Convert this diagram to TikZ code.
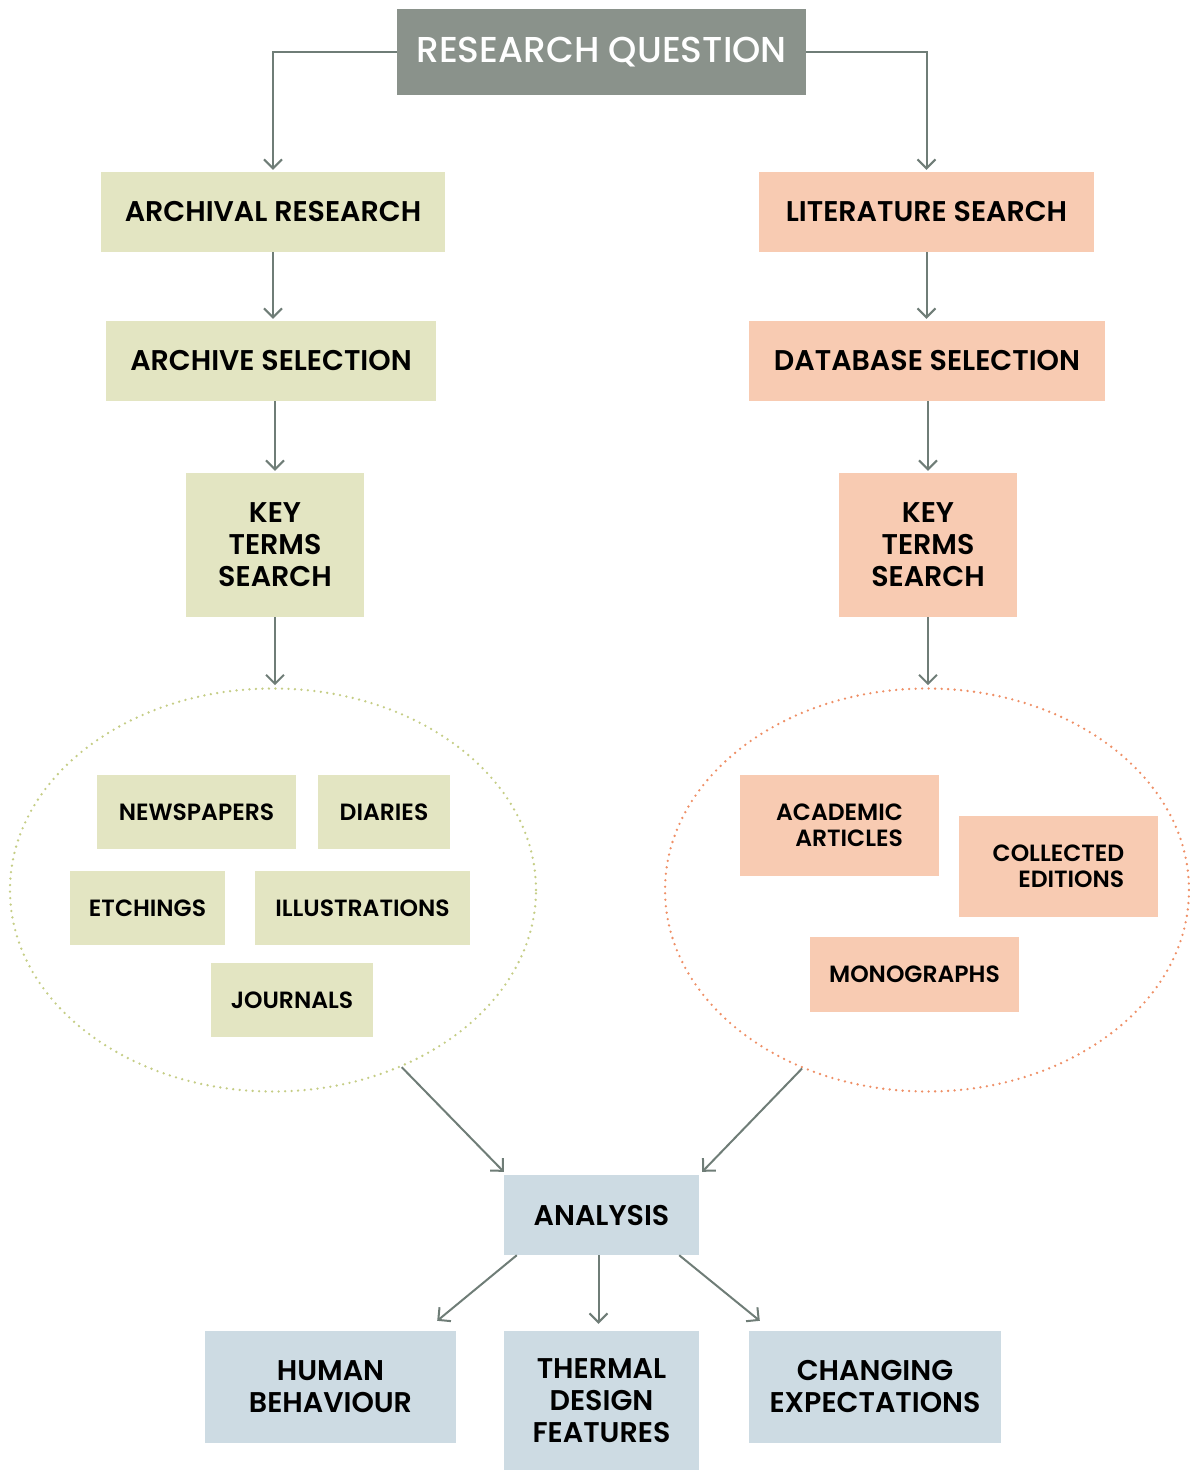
\documentclass[tikz,border=0pt]{standalone}
\usepackage{fontspec}
\setmainfont{Poppins}[BoldFont={Poppins SemiBold}]
\newfontfamily\rqfont{Poppins Medium}
\usepackage{tikz}
\usetikzlibrary{arrows.meta,shapes,calc}
\definecolor{qgray}{HTML}{8A928B}
\definecolor{archgreen}{HTML}{E3E5C2}
\definecolor{litpeach}{HTML}{F8CBB2}
\definecolor{anablue}{HTML}{CDDBE3}
\definecolor{arrowgray}{HTML}{6F7D77}
\definecolor{greendot}{HTML}{C5CD85}
\definecolor{peachdot}{HTML}{EE8F66}
\tikzstyle{basicbox} = [inner sep=0pt, align=center, font=\bfseries\fontsize{28.5}{32}\selectfont]
\tikzstyle{archbox} = [basicbox, fill=archgreen]
\tikzstyle{litbox} = [basicbox, fill=litpeach]
\tikzstyle{anabox} = [basicbox, fill=anablue]
\tikzstyle{smallbox} = [font=\bfseries\fontsize{23.5}{26}\selectfont]
\tikzstyle{pool} = [ellipse, inner sep=0pt, line width=2.6pt, line cap=round, dash pattern=on 0pt off 6.5pt]
\tikzstyle{flow} = [draw=arrowgray, line width=2pt, -{Straight Barb[length=9pt,width=18pt,line width=2pt]}]

\begin{document}
\begin{tikzpicture}[x=1pt, y=-1pt]
        \useasboundingbox (0,0) rectangle (1190,1470);
        % top
        \path[] node[basicbox, fill=qgray, text=white, font=\rqfont\fontsize{36}{40}\selectfont, minimum width=409, minimum height=86] (rq) at (601.5,52) {RESEARCH QUESTION};
        % archive side
        \path[] node[archbox, minimum width=344, minimum height=80] (archres) at (273,212) {ARCHIVAL RESEARCH};
        \path[] node[archbox, minimum width=330, minimum height=80] (archsel) at (271,361) {ARCHIVE SELECTION};
        \path[] node[archbox, minimum width=178, minimum height=144] (keyleft) at (275,545) {KEY\\TERMS\\SEARCH};
        \path[] node[pool, draw=greendot, minimum width=526, minimum height=403] (leftpool) at (273,890) {};
        \path[] node[archbox, smallbox, minimum width=199, minimum height=74] (news) at (196.5,812) {NEWSPAPERS};
        \path[] node[archbox, smallbox, minimum width=132, minimum height=74] (diaries) at (384,812) {DIARIES};
        \path[] node[archbox, smallbox, minimum width=155, minimum height=74] (etch) at (147.5,908) {ETCHINGS};
        \path[] node[archbox, smallbox, minimum width=215, minimum height=74] (illus) at (362.5,908) {ILLUSTRATIONS};
        \path[] node[archbox, smallbox, minimum width=162, minimum height=74] (journals) at (292,1000) {JOURNALS};
        % literature side
        \path[] node[litbox, minimum width=335, minimum height=80] (litsearch) at (926.5,212) {LITERATURE SEARCH};
        \path[] node[litbox, minimum width=356, minimum height=80] (dbsel) at (927,361) {DATABASE SELECTION};
        \path[] node[litbox, minimum width=178, minimum height=144] (keyright) at (928,545) {KEY\\TERMS\\SEARCH};
        \path[] node[pool, draw=peachdot, minimum width=524, minimum height=403] (rightpool) at (927,890) {};
        \path[] node[litbox, smallbox, align=right, minimum width=199, minimum height=101] (academic) at (839.5,825.5) {ACADEMIC\\ARTICLES};
        \path[] node[litbox, smallbox, align=right, minimum width=199, minimum height=101] (collected) at (1058.5,866.5) {COLLECTED\\EDITIONS};
        \path[] node[litbox, smallbox, minimum width=209, minimum height=75] (mono) at (914.5,974.5) {MONOGRAPHS};
        % analysis
        \path[] node[anabox, minimum width=195, minimum height=80] (analysis) at (601.5,1215) {ANALYSIS};
        \path[] node[anabox, minimum width=251, minimum height=112] (human) at (330.5,1387) {HUMAN\\BEHAVIOUR};
        \path[] node[anabox, minimum width=195, minimum height=139] (thermal) at (601.5,1400.5) {THERMAL\\DESIGN\\FEATURES};
        \path[] node[anabox, minimum width=252, minimum height=112] (changing) at (875,1387) {CHANGING\\EXPECTATIONS};
        % connectors
        \path[flow] (rq.west) -| ($(archres.north)+(0,-2)$);
        \path[flow] (rq.east) -| ($(litsearch.north)+(0,-2)$);
        \path[flow] (archres.south) -- ($(archres.south |- archsel.north)+(0,-2)$);
        \path[flow] (archsel.south -| keyleft) -- ($(keyleft.north)+(0,-2)$);
        \path[flow] (keyleft.south) -- ($(keyleft.south |- leftpool.north)+(0,-2)$);
        \path[flow] (litsearch.south) -- ($(litsearch.south |- dbsel.north)+(0,-2)$);
        \path[flow] (dbsel.south -| keyright) -- ($(keyright.north)+(0,-2)$);
        \path[flow] (keyright.south) -- ($(keyright.south |- rightpool.north)+(0,-2)$);
        \path[flow] (leftpool.-54) -- ($(analysis.north west)+(0,-3)$);
        \path[flow] (rightpool.235) -- ($(analysis.north east)+(3,-3)$);
        \path[flow] ($(analysis.south west)+(13,0)$) -- ($(human.north east)+(-19,-10)$);
        \path[flow] ($(analysis.south)+(-3,0)$) -- ($(thermal.north)+(-3,-7)$);
        \path[flow] ($(analysis.south east)+(-20,0)$) -- ($(changing.north west)+(11,-10)$);
\end{tikzpicture}
\end{document}
